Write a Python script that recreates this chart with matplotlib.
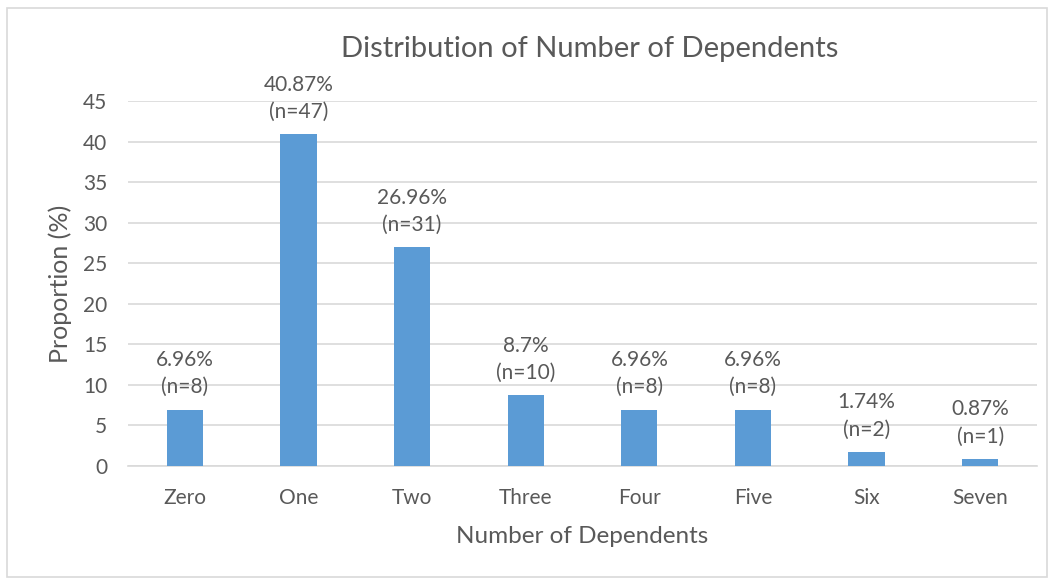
import matplotlib
matplotlib.use('Agg')
import matplotlib.pyplot as plt
from matplotlib.patches import Rectangle

categories = ['Zero', 'One', 'Two', 'Three', 'Four', 'Five', 'Six', 'Seven']
proportions = [6.96, 40.87, 26.96, 8.7, 6.96, 6.96, 1.74, 0.87]
counts = [8, 47, 31, 10, 8, 8, 2, 1]

BAR = '#5B9BD5'
TEXT = '#595959'
GRID = '#D9D9D9'

plt.rcParams['font.family'] = ['Lato', 'DejaVu Sans']

fig = plt.figure(figsize=(10.54, 5.81), dpi=100)
ax = fig.add_axes([128 / 1054, 1 - 466 / 581, (1037 - 128) / 1054, (466 - 101) / 581])

x = list(range(len(categories)))
bars = ax.bar(x, proportions, width=0.32, color=BAR, zorder=3)

for rect, p, n in zip(bars, proportions, counts):
    ax.annotate(f'{p:g}%\n(n={n})', (rect.get_x() + rect.get_width() / 2, p),
                xytext=(0, 9), textcoords='offset points', ha='center', va='bottom',
                fontsize=15, color=TEXT, linespacing=1.45, annotation_clip=False)

ax.set_xlim(-0.5, len(categories) - 0.5)
ax.set_ylim(0, 45)
ax.set_yticks(range(0, 46, 5))
ax.set_xticks(x)
ax.set_xticklabels(categories)
ax.yaxis.grid(True, color=GRID, linewidth=1.2, zorder=0)
ax.tick_params(axis='both', length=0, labelsize=15, labelcolor=TEXT)
ax.tick_params(axis='x', pad=16)
ax.tick_params(axis='y', pad=15)
for s in ['top', 'right', 'left']:
    ax.spines[s].set_visible(False)
ax.spines['bottom'].set_color(GRID)
ax.spines['bottom'].set_linewidth(1.2)

ax.set_xlabel('Number of Dependents', fontsize=17.5, color=TEXT, labelpad=13)
ax.set_ylabel('Proportion (%)', fontsize=18, color=TEXT, labelpad=8)
fig.text(590 / 1054, 1 - 49 / 581, 'Distribution of Number of Dependents',
         ha='center', va='center', fontsize=21, color=TEXT)

# light frame round the chart area
fig.patches.append(Rectangle((7 / 1054, 1 - 577 / 581), 1040 / 1054, 569 / 581,
                             transform=fig.transFigure, fill=False,
                             edgecolor='#D9D9D9', linewidth=1.2))

fig.savefig('out.png', dpi=100)
